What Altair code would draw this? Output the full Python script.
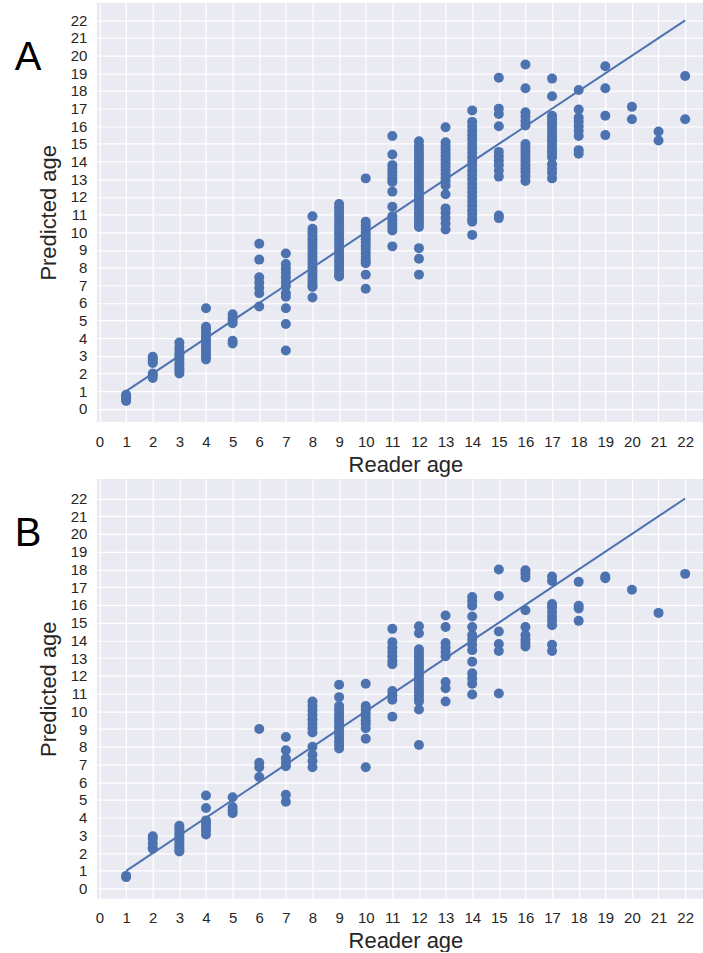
import altair as alt
import pandas as pd

# ---------------- data ----------------
READER_AGES = [1, 2, 3, 4, 5, 6, 7, 8, 9, 10, 11, 12, 13, 14, 15, 16, 17, 18, 19, 20, 21, 22]
TICK_VALUES = [0, 1, 2, 3, 4, 5, 6, 7, 8, 9, 10, 11, 12, 13, 14, 15, 16, 17, 18, 19, 20, 21, 22]

# Panel A: predicted ages per reader age (one list per reader age 1..22)
A_PRED = [
    [0.45, 0.55, 0.62, 0.7, 0.8],
    [2.95, 2.85, 2.7, 2.6, 2.0, 1.9, 1.75],
    [3.75, 3.5, 3.3, 3.1, 2.95, 2.8, 2.6, 2.45, 2.3, 2.15, 2.0],
    [5.7, 4.65, 4.5, 4.3, 4.1, 3.95, 3.8, 3.6, 3.45, 3.3, 3.1, 2.95, 2.8],
    [5.35, 5.15, 5.0, 4.85, 3.85, 3.7],
    [9.35, 8.45, 7.45, 7.15, 6.85, 6.55, 5.8],
    [8.8, 8.2, 7.95, 7.7, 7.45, 7.2, 6.95, 6.55, 6.35, 5.7, 4.8, 3.3],
    [10.9, 10.2, 10.0, 9.8, 9.6, 9.4, 9.2, 9.0, 8.8, 8.6, 8.4, 8.2, 8.0, 7.8, 7.6, 7.4, 7.2, 7.0, 6.9, 6.3],
    [11.6, 11.4, 11.2, 11.0, 10.8, 10.6, 10.4, 10.2, 10.0, 9.8, 9.6, 9.4, 9.2, 9.0, 8.8, 8.6, 8.4, 8.2, 8.0, 7.8, 7.6, 7.5],
    [13.05, 10.6, 10.4, 10.2, 10.0, 9.8, 9.6, 9.4, 9.2, 9.0, 8.8, 8.6, 8.4, 8.25, 7.6, 6.8],
    [15.45, 14.4, 13.8, 13.6, 13.4, 13.2, 13.0, 12.85, 12.3, 11.45, 10.9, 10.7, 10.5, 10.3, 10.1, 9.2],
    [15.15, 14.9, 14.7, 14.5, 14.3, 14.1, 13.9, 13.7, 13.5, 13.3, 13.1, 12.9, 12.7, 12.5, 12.3, 12.1,
     11.9, 11.7, 11.5, 11.3, 11.1, 10.9, 10.7, 10.5, 10.3, 9.1, 8.5, 7.6],
    [15.95, 15.1, 14.9, 14.7, 14.5, 14.3, 14.1, 13.9, 13.7, 13.5, 13.3, 13.1, 12.9, 12.65, 12.15,
     11.35, 11.1, 10.8, 10.5, 10.15],
    [16.9, 16.25, 16.0, 15.75, 15.5, 15.25, 15.0, 14.75, 14.5, 14.25, 14.0, 13.75, 13.5, 13.25, 13.0,
     12.75, 12.5, 12.25, 12.0, 11.75, 11.5, 11.25, 11.0, 10.75, 10.6, 9.85],
    [18.75, 17.0, 16.7, 16.0, 14.55, 14.3, 14.05, 13.8, 13.5, 13.15, 10.95, 10.8],
    [19.5, 18.15, 16.8, 16.55, 16.3, 16.05, 15.0, 14.8, 14.6, 14.4, 14.2, 14.0, 13.8, 13.6, 13.4, 13.15, 12.9],
    [18.7, 17.7, 16.6, 16.4, 16.2, 16.0, 15.8, 15.6, 15.4, 15.2, 15.0, 14.8, 14.6, 14.45, 14.25, 13.85,
     13.6, 13.35, 13.05],
    [18.05, 16.95, 16.5, 16.25, 16.0, 15.75, 15.45, 14.65, 14.45],
    [19.4, 18.15, 16.6, 15.5],
    [17.1, 16.4],
    [15.7, 15.2],
    [18.85, 16.4],
]

# Panel B: predicted ages per reader age (one list per reader age 1..22)
B_PRED = [
    [0.65, 0.72],
    [2.95, 2.8, 2.55, 2.3, 2.25],
    [3.55, 3.4, 3.25, 3.1, 2.95, 2.8, 2.65, 2.5, 2.35, 2.2, 2.1],
    [5.25, 4.55, 3.85, 3.7, 3.5, 3.3, 3.05],
    [5.15, 4.6, 4.4, 4.25],
    [9.0, 7.1, 6.85, 6.3],
    [8.55, 7.8, 7.35, 7.1, 6.9, 5.3, 4.9],
    [10.55, 10.3, 10.05, 9.8, 9.55, 9.3, 9.05, 8.8, 8.0, 7.55, 7.2, 6.85],
    [11.5, 10.8, 10.3, 10.1, 9.9, 9.7, 9.5, 9.3, 9.1, 8.9, 8.7, 8.5, 8.3, 8.1, 7.9],
    [11.55, 10.3, 10.1, 9.9, 9.7, 9.5, 9.3, 9.05, 8.45, 6.85],
    [14.65, 13.9, 13.6, 13.35, 13.1, 12.85, 12.65, 11.15, 10.9, 10.65, 9.7],
    [14.8, 14.4, 13.5, 13.3, 13.1, 12.9, 12.7, 12.5, 12.3, 12.1, 11.9, 11.7, 11.5, 11.3, 11.1, 10.9,
     10.7, 10.55, 10.1, 8.1],
    [15.4, 14.75, 13.85, 13.6, 13.35, 13.1, 11.65, 11.3, 10.55],
    [16.45, 16.2, 15.95, 15.35, 14.75, 14.3, 14.05, 13.75, 13.45, 12.8, 12.15, 11.85, 11.55, 10.95],
    [18.0, 16.5, 14.5, 13.8, 13.4, 11.0],
    [17.95, 17.75, 17.55, 15.7, 14.75, 14.3, 14.05, 13.85, 13.65],
    [17.6, 17.35, 16.05, 15.85, 15.6, 15.35, 15.1, 14.85, 13.75, 13.4],
    [17.3, 15.95, 15.8, 15.1],
    [17.6, 17.5],
    [16.85],
    [15.55],
    [17.75],
]

# identity line
LINE_X = [1, 22]
LINE_Y = [1, 22]

PANEL_LETTERS = ["A", "B"]

# ---------------- chart ----------------
BLUE = "#4c72b0"
TEXT = "#262626"
FONT = "Liberation Sans"


def panel(pred, ydomain, letter):
    rows = [{"reader": a, "pred": p} for a, ps in zip(READER_AGES, pred) for p in ps]
    df = pd.DataFrame(rows)
    xscale = alt.Scale(domain=[-0.1, 22.67], nice=False, zero=False)
    yscale = alt.Scale(domain=ydomain, nice=False, zero=False)
    xaxis = alt.Axis(values=TICK_VALUES, title="Reader age", labelPadding=12,
                     titlePadding=5, titleX=309, labelFlush=False, labelOverlap=False)
    yaxis = alt.Axis(values=TICK_VALUES, title="Predicted age", labelPadding=10,
                     titlePadding=10, labelFlush=False, labelOverlap=False)
    pts = alt.Chart(df).mark_circle(size=100, color=BLUE, opacity=1).encode(
        x=alt.X("reader:Q", scale=xscale, axis=xaxis),
        y=alt.Y("pred:Q", scale=yscale, axis=yaxis),
    )
    line = alt.Chart(pd.DataFrame({"reader": LINE_X, "pred": LINE_Y})).mark_line(
        color=BLUE, strokeWidth=2
    ).encode(
        x=alt.X("reader:Q", scale=xscale, axis=xaxis),
        y=alt.Y("pred:Q", scale=yscale, axis=yaxis),
    )
    lab = alt.Chart(pd.DataFrame({"t": [letter]})).mark_text(
        fontSize=40, font=FONT, align="center", baseline="middle", color="black"
    ).encode(text="t:N", x=alt.value(-69), y=alt.value(55))
    return alt.layer(pts, line, lab).properties(width=607, height=420)


chart_a = panel(A_PRED, [-0.75, 23.0], PANEL_LETTERS[0])
chart_b = panel(B_PRED, [-0.55, 23.1], PANEL_LETTERS[1])

chart = (
    alt.vconcat(chart_a, chart_b, spacing=4)
    .properties(padding={"left": 14, "top": 2, "right": 0, "bottom": 0}, background="white")
    .configure_view(stroke=None, fill="#eaeaf2")
    .configure_axis(
        labelFont=FONT, titleFont=FONT, labelColor=TEXT, titleColor=TEXT,
        labelFontSize=15, titleFontSize=22, titleFontWeight="normal",
        domain=False, ticks=False, tickSize=0,
        gridColor="white", gridWidth=1.2, gridOpacity=1,
    )
)

chart.save("out.html", embed_options={"renderer": "svg", "actions": False})
